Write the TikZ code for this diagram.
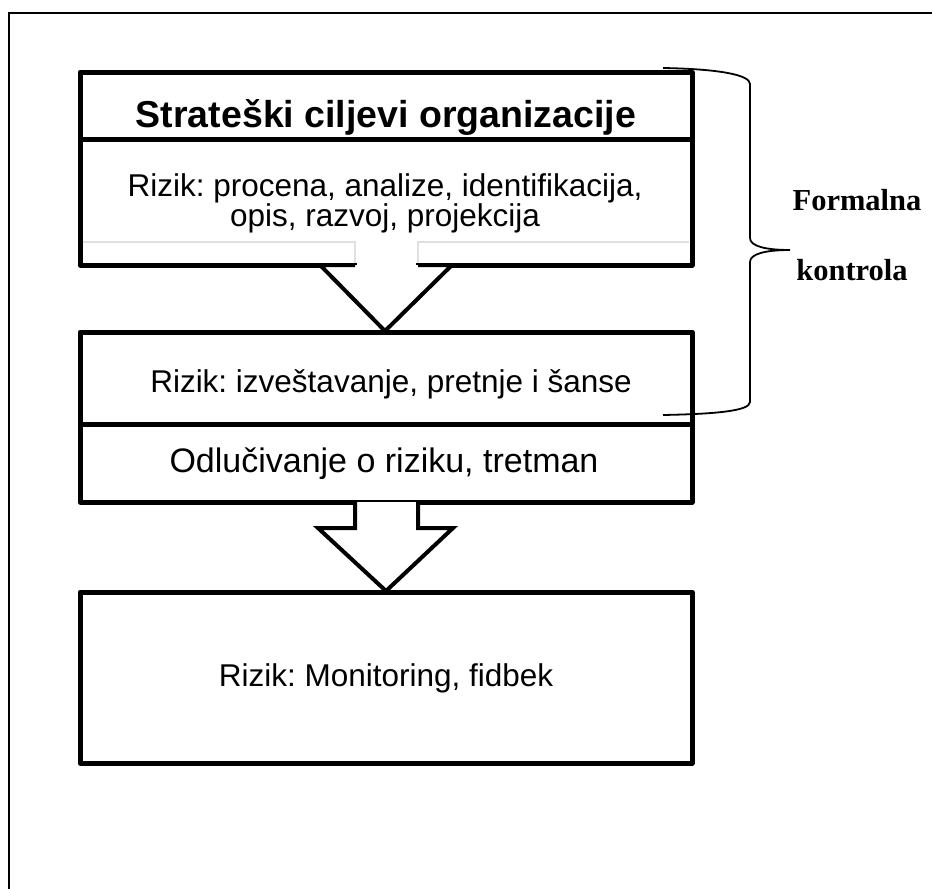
\documentclass[tikz,border=0pt]{standalone}
\usepackage{fontspec}
\setmainfont{Liberation Sans}
\newfontfamily\serifbold{Liberation Serif}
\frenchspacing
\begin{document}
\frenchspacing
\begin{tikzpicture}[x=1pt,y=-1pt,
  boxline/.style={line width=5pt, line join=round},
  arrowline/.style={line width=4pt, line join=miter, fill=white},
  ghost/.style={line width=2pt, draw=black!12},
  bracestyle/.style={line width=1.8pt},
  frameline/.style={line width=2pt},
  bodytext/.style={inner sep=0pt, align=center, font=\fontsize{31.5}{30}\selectfont},
  titletext/.style={inner sep=0pt, font=\fontsize{37.5}{40}\selectfont\bfseries},
  sidetext/.style={inner sep=0pt, font=\fontsize{30.5}{34}\selectfont\serifbold\bfseries}]
\useasboundingbox (0,0) rectangle (932,889);
% outer frame
\draw[frameline] (9,889) -- (9,13) -- (932,13);

% box 1
\coordinate (b1nw) at (80,72);
\coordinate (b1se) at (692,265);
\draw[ghost] (83,242) -- (355,242) -- (355,265);
\draw[ghost] (418,265) -- (418,242) -- (689,242);
\draw[boxline] (b1nw) rectangle (b1se);
\draw[boxline] (80,139) -- (692,139);

% box 2
\coordinate (b2nw) at (80,332);
\coordinate (b2se) at (692,502);
\draw[boxline] (b2nw) rectangle (b2se);
\draw[boxline] (80,424) -- (692,424);

% box 3
\coordinate (b3nw) at (80,592);
\coordinate (b3se) at (692,763);
\draw[boxline] (b3nw) rectangle (b3se);

% block arrow 1 (between box 1 and box 2)
\fill[white] (357,245) rectangle (416,267);
\draw[arrowline] (355,265) -- (320,265) -- (385,331) -- (452,265) -- (418,265);

% block arrow 2 (between box 2 and box 3)
\draw[arrowline] (355,502) -- (355,528) -- (318,528) -- (386,591) -- (453,528) -- (418,528) -- (418,502);

% texts
\node[titletext] (title) at (386,117) {Strateški ciljevi organizacije};
\node[bodytext] (assess) at (385,203) {Rizik: procena, analize, identifikacija,\\opis, razvoj, projekcija};
\node[bodytext] (report) at (391,384) {Rizik: izveštavanje, pretnje i šanse};
\node[bodytext, font=\fontsize{34}{34}\selectfont] (decide) at (384,464) {Odlučivanje o riziku, tretman};
\node[bodytext] (monitor) at (386,678) {Rizik: Monitoring, fidbek};

% brace
\coordinate (brtop) at (663,68);
\coordinate (brtip) at (790,250);
\coordinate (brbot) at (663,415);
\draw[bracestyle] (brtop) .. controls (720,69) and (750,75) .. (750,84)
  -- (750,238) .. controls (750,246) and (765,250) .. (brtip)
  .. controls (765,250) and (750,254) .. (750,262)
  -- (750,402) .. controls (750,411) and (715,414) .. (brbot);

\node[sidetext] (formal) at (857,200) {Formalna};
\node[sidetext] (control) at (852,270) {kontrola};
\end{tikzpicture}
\end{document}
